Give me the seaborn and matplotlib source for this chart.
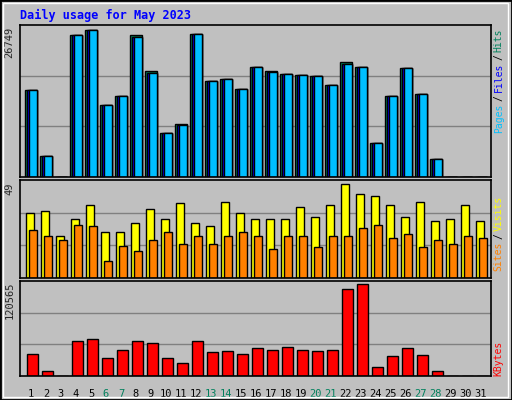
import numpy as np
import pandas as pd
import seaborn as sns
import matplotlib.pyplot as plt
from matplotlib.patches import Rectangle

# Daily data for May 2023
days = list(range(1, 32))
hits = [15893, 3761, 0, 25780, 26749, 13163, 14801, 25780, 19229, 8068, 9705, 26084, 17531, 17895,
        16075, 20079, 19350, 18804, 18623, 18441, 16803, 20867, 20079, 6248, 14801, 19896, 15165, 3336, 0, 0, 0]
files = [15893, 3761, 0, 25780, 26749, 13163, 14801, 25538, 18987, 8068, 9524, 26084, 17531, 17895,
         16075, 20079, 19168, 18804, 18623, 18441, 16803, 20624, 20079, 6248, 14801, 19896, 15165, 3336, 0, 0, 0]
pages = files
visits = [34, 35, 22, 31, 38, 24, 24, 29, 36, 31, 39, 29, 27, 40, 34, 31, 31, 31, 37, 32, 38, 49,
          44, 43, 38, 32, 40, 30, 31, 38, 30]
sites = [25, 22, 20, 28, 27, 9, 17, 14, 20, 24, 18, 22, 18, 22, 24, 22, 15, 22, 22, 16, 22, 22,
         26, 28, 21, 23, 16, 20, 18, 22, 21]
kbytes = [29481, 7040, 0, 46642, 49282, 24201, 34762, 46642, 44002, 24201, 17601, 46642, 32122, 33441,
          29481, 37402, 34762, 38722, 34762, 33441, 34762, 113965, 120565, 12321, 26841, 37402, 28161,
          7040, 0, 0, 0]
weekend = [6, 7, 13, 14, 20, 21, 27, 28]

df = pd.DataFrame({"day": days, "hits": hits, "files": files, "pages": pages,
                   "visits": visits, "sites": sites, "kbytes": kbytes})
d = df["day"].to_numpy()

sns.set_style("white")
plt.rcParams["font.family"] = ["DejaVu Sans Mono"]
bg = "#c0c0c0"

fig = plt.figure(figsize=(5.12, 4.0), dpi=100, facecolor=bg)
fig.patches.append(Rectangle((0, 0), 1, 1, transform=fig.transFigure, fill=False,
                             edgecolor="black", lw=2))
fig.patches.append(Rectangle((0.006, 0.008), 0.986, 0.985, transform=fig.transFigure, fill=False,
                             edgecolor="white", lw=1))
fig.text(20 / 512, 1 - 15 / 400, "Daily usage for May 2023", color="#0000ff",
         fontsize=8.5, fontweight="bold", va="center")

L, W = 20 / 512, 471 / 512
ax1 = fig.add_axes([L, 1 - 177 / 400, W, 152 / 400])
ax2 = fig.add_axes([L, 1 - 278 / 400, W, 98 / 400])
ax3 = fig.add_axes([L, 1 - 376 / 400, W, 95 / 400])

kw = dict(native_scale=True, edgecolor="black", linewidth=1, legend=False, saturation=1)
sns.barplot(x=d, y=df["hits"], color="#00805c", width=0.76, ax=ax1, **kw)
sns.barplot(x=d + 0.065, y=df["files"], color="#0000ff", width=0.63, ax=ax1, **kw)
sns.barplot(x=d + 0.13, y=df["pages"], color="#00bfff", width=0.5, ax=ax1, **kw)
sns.barplot(x=d - 0.06, y=df["visits"], color="#ffff00", width=0.56, ax=ax2, **kw)
sns.barplot(x=d + 0.14, y=df["sites"], color="#ff8000", width=0.49, ax=ax2, **kw)
sns.barplot(x=d + 0.1, y=df["kbytes"], color="#ff0000", width=0.71, ax=ax3, **kw)

for ax, ymax in [(ax1, 27660), (ax2, 51.3), (ax3, 124900)]:
    ax.set_facecolor(bg)
    ax.set_xlim(0.27, 31.67)
    ax.set_ylim(0, ymax)
    ax.set_yticks([ymax / 3, 2 * ymax / 3])
    ax.yaxis.grid(True, color="#808080", lw=1)
    ax.set_axisbelow(True)
    ax.tick_params(left=False, bottom=False, labelleft=False, labelbottom=False)
    ax.set_xlabel("")
    ax.set_ylabel("")
    for s in ax.spines.values():
        s.set_edgecolor("black")
        s.set_linewidth(1.2)

ax3.set_xticks(days)
ax3.set_xticklabels([str(x) for x in days], fontsize=7.5)
ax3.tick_params(labelbottom=True, pad=6)
for lab, day in zip(ax3.get_xticklabels(), days):
    lab.set_color("#00805c" if day in weekend else "black")

ax1.text(-0.012, 0.99, "26749", rotation=90, ha="right", va="top", fontsize=7.5, transform=ax1.transAxes)
ax2.text(-0.012, 0.97, "49", rotation=90, ha="right", va="top", fontsize=7.5, transform=ax2.transAxes)
ax3.text(-0.012, 0.99, "120565", rotation=90, ha="right", va="top", fontsize=7.5, transform=ax3.transAxes)

def right_label(ax, parts):
    # parts: (text, colour, top y in axes fraction)
    for txt, col, y in parts:
        ax.text(1.006, y, txt, color=col, rotation=90, ha="left", va="top",
                fontsize=7, transform=ax.transAxes)

right_label(ax1, [("Hits", "#00805c", 0.98), ("/", "black", 0.81), ("Files", "#0000ff", 0.75),
                  ("/", "black", 0.54), ("Pages", "#00bfff", 0.48)])
right_label(ax2, [("Visits", "#ffff00", 0.84), ("/", "black", 0.46), ("Sites", "#ff8000", 0.37)])
right_label(ax3, [("KBytes", "#ff0000", 0.37)])

fig.savefig("out.png", dpi=100, facecolor=bg)
